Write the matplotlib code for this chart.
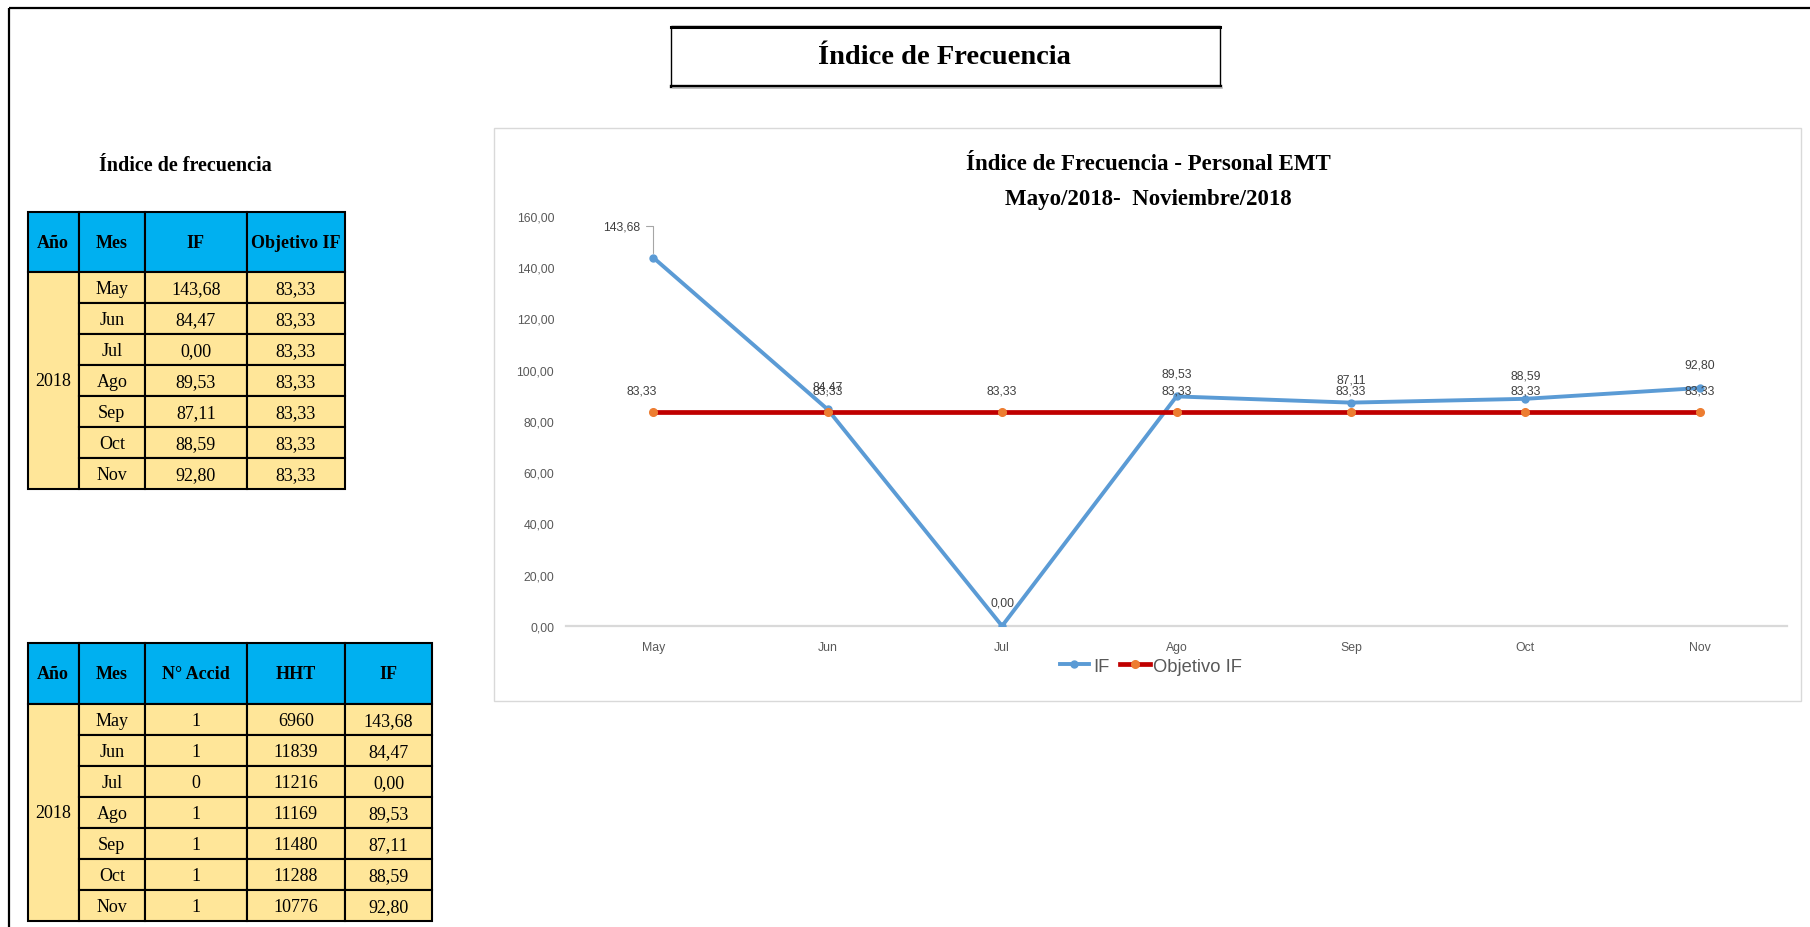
import matplotlib
matplotlib.use('Agg')
import matplotlib.pyplot as plt
from matplotlib.patches import Rectangle
from matplotlib.lines import Line2D
from matplotlib import font_manager as fm

# ---------------- data ----------------
meses = ['May', 'Jun', 'Jul', 'Ago', 'Sep', 'Oct', 'Nov']
anio = '2018'
if_vals = [143.68, 84.47, 0.00, 89.53, 87.11, 88.59, 92.80]
objetivo_if = [83.33, 83.33, 83.33, 83.33, 83.33, 83.33, 83.33]
n_accid = [1, 1, 0, 1, 1, 1, 1]
hht = [6960, 11839, 11216, 11169, 11480, 11288, 10776]
y_ticks = [0, 20, 40, 60, 80, 100, 120, 140, 160]

page_title = 'Índice de Frecuencia'
table1_title = 'Índice de frecuencia'
table1_headers = ['Año', 'Mes', 'IF', 'Objetivo IF']
table2_headers = ['Año', 'Mes', 'N° Accid', 'HHT', 'IF']
chart_title_1 = 'Índice de Frecuencia - Personal EMT'
chart_title_2 = 'Mayo/2018-  Noviembre/2018'
series_names = ['IF', 'Objetivo IF']


def fmt(v):
    return f'{v:.2f}'.replace('.', ',')


# ---------------- fonts ----------------
_names = {f.name for f in fm.fontManager.ttflist}
if 'Liberation Sans Narrow' in _names:
    SANS, K = 'Liberation Sans Narrow', 1.0
else:
    SANS, K = 'Liberation Sans', 0.88
SERIF = 'Liberation Serif'

HEAD = '#00B0F0'
BODY = '#FFE699'
BLUE = '#5B9BD5'
RED = '#C00000'
ORANGE = '#ED7D31'
GRAY = '#595959'
LGRAY = '#404040'

W, H = 1810, 928
fig = plt.figure(figsize=(W / 100, H / 100), dpi=100)
fig.patch.set_facecolor('white')
page = fig.add_axes([0, 0, 1, 1])
page.set_xlim(0, W)
page.set_ylim(H, 0)
page.axis('off')

# page frame
page.plot([9, 9], [9, H], color='black', lw=1.6, solid_capstyle='butt')
page.plot([9, W], [9, 9], color='black', lw=1.6, solid_capstyle='butt')

# title box
page.add_patch(Rectangle((671, 27), 549, 60, fc='white', ec='black', lw=1.0))
page.plot([671, 1220], [27.5, 27.5], color='black', lw=2.2)
page.plot([671, 1220], [86.5, 86.5], color='black', lw=2.4)
page.plot([673, 1222], [89, 89], color='#BFBFBF', lw=1.2)
page.text(944.5, 58, page_title, family=SERIF, weight='bold', fontsize=20.5,
          ha='center', va='center')

# table 1 title
page.text(185, 166, table1_title, family=SERIF, weight='bold', fontsize=14.5,
          ha='center', va='center')


def draw_table(x_edges, y_top, head_h, row_h, headers, columns):
    n = len(columns[0])
    lw = 1.5
    for i, h in enumerate(headers):
        x0, x1 = x_edges[i], x_edges[i + 1]
        page.add_patch(Rectangle((x0, y_top), x1 - x0, head_h, fc=HEAD, ec='black', lw=lw))
        page.text((x0 + x1) / 2, y_top + head_h / 2, h, family=SERIF, weight='bold',
                  fontsize=13, ha='center', va='center')
    body_top = y_top + head_h
    x0, x1 = x_edges[0], x_edges[1]
    page.add_patch(Rectangle((x0, body_top), x1 - x0, n * row_h, fc=BODY, ec='black', lw=lw))
    page.text((x0 + x1) / 2, body_top + n * row_h / 2, anio, family=SERIF,
              fontsize=13, ha='center', va='center')
    for r in range(n):
        for c, col in enumerate(columns):
            x0, x1 = x_edges[c + 1], x_edges[c + 2]
            y0 = body_top + r * row_h
            page.add_patch(Rectangle((x0, y0), x1 - x0, row_h, fc=BODY, ec='black', lw=lw))
            page.text((x0 + x1) / 2, y0 + row_h / 2 + 1, col[r], family=SERIF,
                      fontsize=13, ha='center', va='center')


draw_table([27.7, 78.7, 145, 246.7, 345], 213.3, 59.4, 31.08, table1_headers,
           [meses, [fmt(v) for v in if_vals], [fmt(v) for v in objetivo_if]])
draw_table([27.7, 78.7, 145, 246.7, 345, 432.3], 644, 61, 31.0, table2_headers,
           [meses, [str(v) for v in n_accid], [str(v) for v in hht],
            [fmt(v) for v in if_vals]])

# chart container
page.add_patch(Rectangle((494, 129), 1307, 573, fc='white', ec='#D9D9D9', lw=1.0))
page.text(1148.5, 164, chart_title_1, family=SERIF, weight='bold', fontsize=16.5,
          ha='center', va='center')
page.text(1148.5, 200, chart_title_2, family=SERIF, weight='bold', fontsize=16.5,
          ha='center', va='center')

# ---------------- chart ----------------
ax = fig.add_axes([566 / W, 1 - 627 / H, (1787 - 566) / W, (627 - 216.7) / H])
ax.set_facecolor('none')
x = list(range(len(meses)))
ax.plot(x, if_vals, color=BLUE, lw=2.8, marker='o', ms=5, mfc=BLUE, mec=BLUE, zorder=3)
ax.plot(x, objetivo_if, color=RED, lw=3.4, marker='o', ms=5.5, mfc=ORANGE, mec=ORANGE, zorder=4)
ax.set_xlim(-0.5, len(meses) - 0.5)
ax.set_ylim(y_ticks[0], y_ticks[-1])
ax.set_yticks(y_ticks)
ax.set_yticklabels([fmt(v) for v in y_ticks])
ax.set_xticks(x)
ax.set_xticklabels(meses)
for s in ['top', 'right', 'left']:
    ax.spines[s].set_visible(False)
ax.spines['bottom'].set_color('#D9D9D9')
ax.spines['bottom'].set_linewidth(1.6)
ax.spines['bottom'].set_zorder(1)
ax.tick_params(axis='y', length=0, pad=8.5, labelsize=10 * K, labelcolor=GRAY)
ax.tick_params(axis='x', length=0, pad=11, labelsize=10 * K, labelcolor=GRAY)
for t in ax.get_xticklabels() + ax.get_yticklabels():
    t.set_family(SANS)

lab_kw = dict(textcoords='offset points', ha='center', va='center',
              fontsize=10 * K, family=SANS, color=LGRAY, annotation_clip=False)
for i, v in enumerate(if_vals):
    if i == 0:
        ax.annotate(fmt(v), xy=(i, v), xytext=(-22.7, 22.5),
                    arrowprops=dict(arrowstyle='-', color='#A6A6A6', lw=0.8,
                                    connectionstyle='angle,angleA=0,angleB=90,rad=0',
                                    relpos=(1.0, 0.5), shrinkA=2, shrinkB=3),
                    **lab_kw)
    else:
        ax.annotate(fmt(v), xy=(i, v), xytext=(0, 16.8), **lab_kw)
for i, v in enumerate(objetivo_if):
    dx = -8.2 if i == 0 else 0
    ax.annotate(fmt(v), xy=(i, v), xytext=(dx, 16.0), **lab_kw)

handles = [Line2D([], [], color=BLUE, lw=2.8, marker='o', ms=5, mfc=BLUE, mec=BLUE),
           Line2D([], [], color=RED, lw=3.4, marker='o', ms=5.5, mfc=ORANGE, mec=ORANGE)]
leg = fig.legend(handles, series_names, loc='center', bbox_to_anchor=(1151 / W, 1 - 667 / H),
                 bbox_transform=fig.transFigure, ncol=2, frameon=False,
                 prop={'family': SANS, 'size': 15 * K}, handlelength=1.6,
                 handletextpad=0.2, columnspacing=0.6, borderpad=0)
for t in leg.get_texts():
    t.set_color(GRAY)

fig.savefig('out.png', dpi=100, facecolor='white')
